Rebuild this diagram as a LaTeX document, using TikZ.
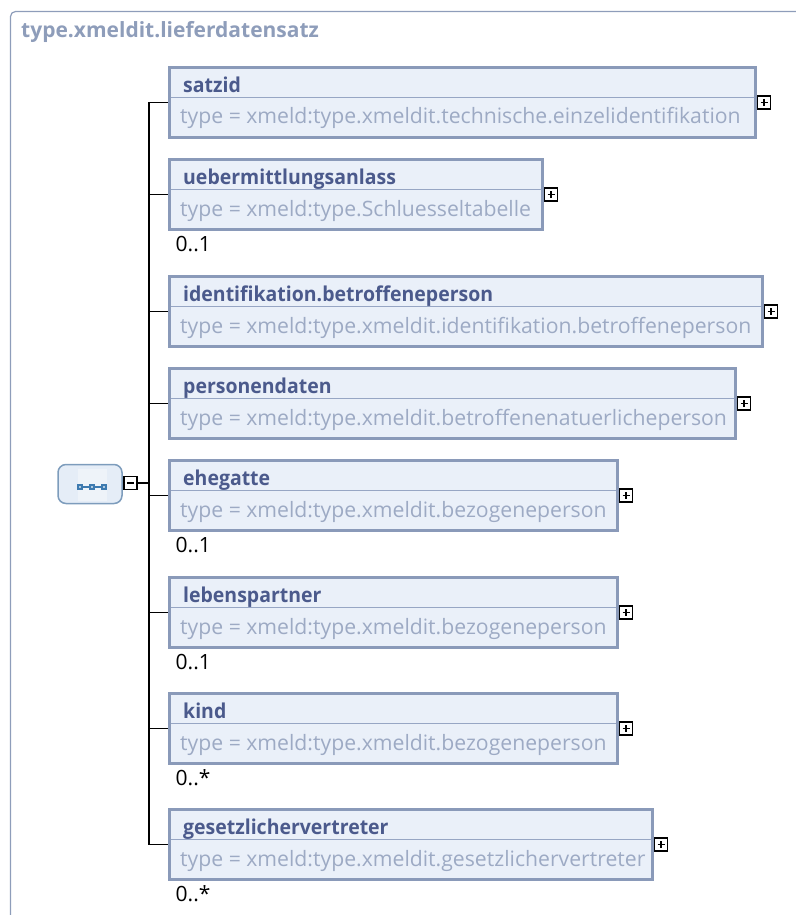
\documentclass[tikz,border=0pt]{standalone}
\usepackage{fontspec}
\setmainfont{Open Sans}
\newfontfamily\ttlfont{Open Sans}[FakeStretch=0.95]
\usetikzlibrary{calc}
\definecolor{framec}{HTML}{8E9DBA}
\definecolor{boxb}{HTML}{8A9AB9}
\definecolor{boxf}{HTML}{EAF0F9}
\definecolor{ttlc}{HTML}{4B5A8C}
\definecolor{typc}{HTML}{9DAAC4}
\definecolor{sepc}{HTML}{97A6C4}
\definecolor{seqb}{HTML}{7D9CBC}
\definecolor{seqf}{HTML}{E5EDF7}
\definecolor{icon}{HTML}{3D7AB0}
\newcommand\xelem[6]{%
  \node[elbox, minimum width=#3-171pt, minimum height=70pt, anchor=north west] (#1) at (169.5,#2+1.5) {};
  \draw[sepline] ($(#1.north west)+(1.5,30)$) -- ($(#1.north east)+(-1.5,30)$);
  \node[ttl] (#1-t) at ($(#1.north west)+(13.5,25)$) {#4};
  \node[typ] (#1-y) at ($(#1.north west)+(10.5,56.5)$) {type = #5};
  \node[plusbox] (#1-p) at ($(#1.east)+(8.5,0)$) {};
  \node[mult] (#1-m) at (175.5,#2+93.5) {#6};
}
\begin{document}
\begin{tikzpicture}[x=1pt,y=-1pt,
  elbox/.style={draw=boxb, fill=boxf, line width=3pt, inner sep=0pt, outer sep=0pt},
  sepline/.style={draw=sepc, line width=1.5pt},
  ttl/.style={anchor=base west, inner sep=0pt, text=ttlc, font=\fontsize{20.5}{24}\ttlfont\bfseries},
  typ/.style={anchor=base west, inner sep=0pt, text=typc, font=\fontsize{21.2}{24}\selectfont},
  mult/.style={anchor=base west, inner sep=0pt, text=black, font=\fontsize{21}{24}\selectfont},
  plusbox/.style={draw=black, fill=white, line width=1.8pt, minimum width=13pt, minimum height=13pt, inner sep=0pt, outer sep=0pt,
    path picture={\draw[line width=1.7pt] ($(path picture bounding box.center)+(-3.5,0)$) -- ($(path picture bounding box.center)+(3.5,0)$);
                  \draw[line width=1.7pt] ($(path picture bounding box.center)+(0,-3.5)$) -- ($(path picture bounding box.center)+(0,3.5)$);}},
  minusbox/.style={draw=black, fill=white, line width=1.8pt, minimum width=13pt, minimum height=13pt, inner sep=0pt, outer sep=0pt,
    path picture={\draw[line width=1.7pt] ($(path picture bounding box.center)+(-3.5,0)$) -- ($(path picture bounding box.center)+(3.5,0)$);}},
  conn/.style={draw=black, line width=1.5pt},
]
\useasboundingbox (0,0) rectangle (795,915);
% outer frame
\draw[framec, line width=1.2pt, rounded corners=5pt] (796,11.5) -- (10.5,11.5) -- (10.5,916);
\node[anchor=base west, inner sep=0pt, text=framec, font=\fontsize{21}{24}\selectfont\bfseries] (head) at (21,37.5) {type.xmeldit.lieferdatensatz};

% sequence compositor
\node[draw=seqb, fill=seqf, line width=1.5pt, rounded corners=8pt, minimum width=64pt, minimum height=39pt, inner sep=0pt, outer sep=0pt] (seq) at (90,484) {};
\fill[white, opacity=0.35] (78,469) rectangle (107,501);
\draw[icon, line width=1.2pt] (80,487) -- (104,487);
\foreach \xx in {80,92,104} {\fill[icon] (\xx-3,484) rectangle (\xx+3,490); \fill[white!60!icon] (\xx-1.2,485.8) rectangle (\xx+1.2,488.2);}
\node[minusbox] (seqm) at (130.5,483) {};
\coordinate (sp) at (149,483);
\draw[conn] (seqm.east) -- (sp);

\xelem{satzid}{66}{757}{satzid}{xmeld:type.xmeldit.technische.einzelidentifikation}{}
\xelem{ueber}{158}{544}{uebermittlungsanlass}{xmeld:type.Schluesseltabelle}{0..1}
\xelem{ident}{275}{764}{identifikation.betroffeneperson}{xmeld:type.xmeldit.identifikation.betroffeneperson}{}
\xelem{person}{367}{737}{personendaten}{xmeld:type.xmeldit.betroffenenatuerlicheperson}{}
\xelem{ehe}{459}{619}{ehegatte}{xmeld:type.xmeldit.bezogeneperson}{0..1}
\xelem{leben}{576}{619}{lebenspartner}{xmeld:type.xmeldit.bezogeneperson}{0..1}
\xelem{kind}{692}{619}{kind}{xmeld:type.xmeldit.bezogeneperson}{0..*}
\xelem{gesetz}{808}{654}{gesetzlichervertreter}{xmeld:type.xmeldit.gesetzlichervertreter}{0..*}

\draw[conn, line cap=rect] (sp |- satzid.west) -- (sp |- gesetz.west);
\foreach \n in {satzid,ueber,ident,person,ehe,leben,kind,gesetz} {\draw[conn] (sp |- \n.west) -- ([xshift=-1.5pt]\n.west);}
\end{tikzpicture}
\end{document}
